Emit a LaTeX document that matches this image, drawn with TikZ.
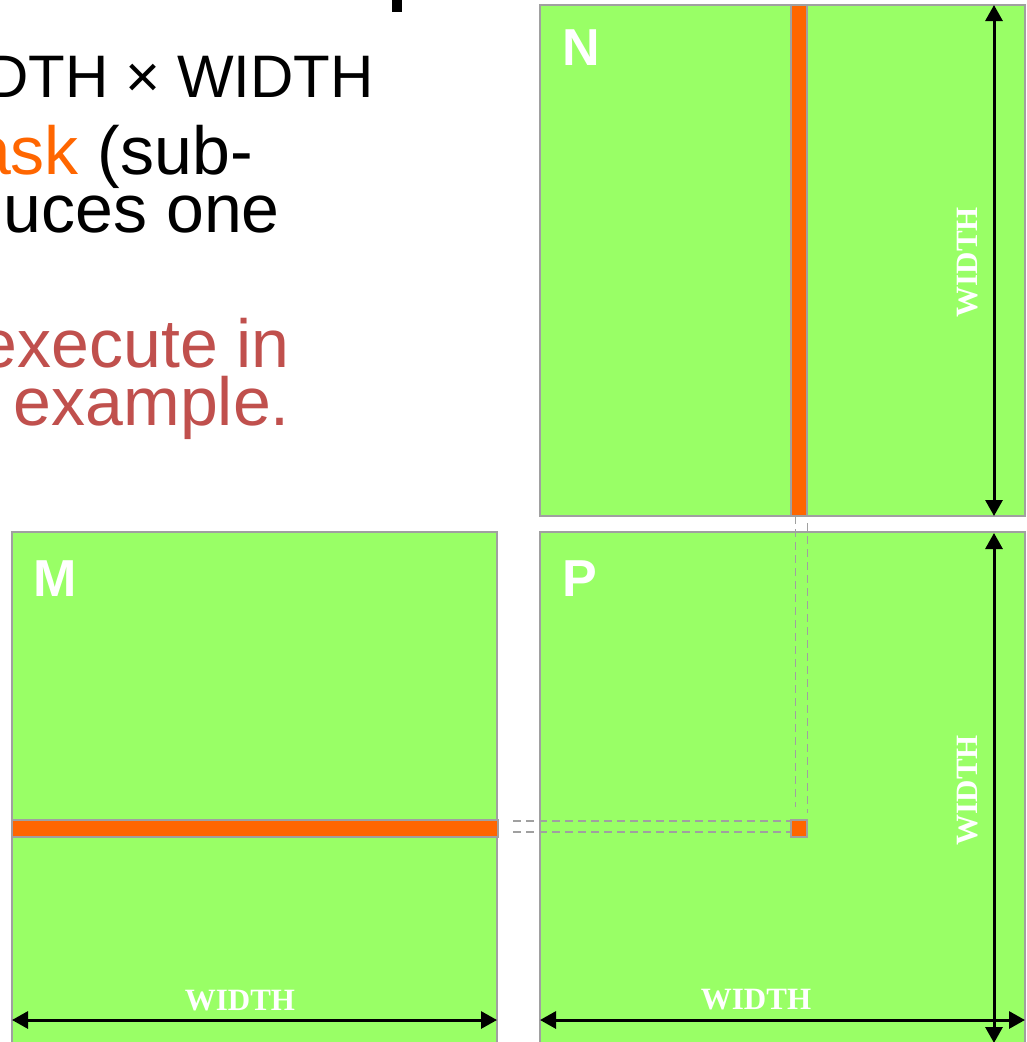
\documentclass[tikz,border=0pt]{standalone}
\usepackage{fontspec}
\setmainfont{Liberation Sans}
\newfontfamily\serifb{Liberation Serif}
\usetikzlibrary{arrows.meta}
\definecolor{matgreen}{HTML}{99FF66}
\definecolor{orng}{HTML}{FF6600}
\definecolor{bordergray}{HTML}{A0A0A0}
\definecolor{redtxt}{HTML}{C0504D}
\begin{document}
\begin{tikzpicture}[x=1pt,y=-1pt,
 mat/.style={draw=bordergray, line width=1.8pt, fill=matgreen, anchor=north west, inner sep=0pt, outer sep=0pt, minimum width=485pt, minimum height=511pt},
 strip/.style={draw=bordergray, line width=1.3pt, fill=orng, anchor=north west, inner sep=0pt, outer sep=0pt},
 dimarrow/.style={line width=3pt, {Triangle[length=16pt,width=17pt]}-{Triangle[length=16pt,width=17pt]}},
 guide/.style={draw=bordergray, line width=1.8pt, dash pattern=on 8pt off 5pt},
 matlabel/.style={text=white, font=\bfseries\fontsize{52}{52}\selectfont, anchor=base west, inner sep=0pt},
 widthlabel/.style={text=white, font=\serifb\bfseries\fontsize{31}{31}\selectfont, inner sep=0pt},
 bigtext/.style={font=\fontsize{68}{68}\selectfont, anchor=base east, inner sep=0pt},
 toptext/.style={font=\fontsize{60}{60}\selectfont, anchor=base east, inner sep=0pt},
]
\useasboundingbox (0,0) rectangle (1026,1042);
\clip (0,0) rectangle (1026,1042);
\fill[white] (0,0) rectangle (1026,1042);

% text fragments at the left
\fill[black] (392,0) rectangle (402,12);
\node[toptext] (t1) at (374,97) {DTH × WIDTH};
\node[bigtext] (t2) at (253,174) {\textcolor{orng}{ask} (sub-};
\node[bigtext] (t3) at (280,232) {uces one};
\node[bigtext, text=redtxt] (t4) at (290,367) {execute in};
\node[bigtext, text=redtxt] (t5) at (290,425) {example.};

% matrices
\node[mat] (N) at (540,5) {};
\node[mat] (M) at (12,532) {};
\node[mat] (P) at (540,532) {};

% strips
\node[strip, minimum width=16pt, minimum height=511pt] (Ncol) at (791,5) {};
\node[strip, minimum width=486pt, minimum height=17pt] (Mrow) at (12,820) {};
\node[strip, minimum width=16pt, minimum height=17pt] (Pel) at (791,820) {};

% dashed guides
\draw[guide] ([xshift=4.5pt]Ncol.south west) -- ([xshift=4.5pt, yshift=13pt]Pel.north west);
\draw[guide] ([xshift=0.5pt, yshift=-7pt]Ncol.south east) -- ([xshift=0.5pt, yshift=7pt]Pel.north east);
\draw[guide] ([xshift=15pt, yshift=-1pt]Mrow.north east) -- ([xshift=-1pt, yshift=-1pt]Pel.north west);
\draw[guide] ([xshift=15pt, yshift=5pt]Mrow.south east) -- ([xshift=-1pt, yshift=5pt]Pel.south west);

% dimension arrows
\draw[dimarrow] ([xshift=-31pt]N.north east) -- ([xshift=-31pt]N.south east);
\draw[dimarrow] ([xshift=-31pt, yshift=-1pt]P.north east) -- ([xshift=-31pt]P.south east);
\draw[dimarrow] ([yshift=23pt]M.south west) -- ([yshift=23pt]M.south east);
\draw[dimarrow] ([yshift=23pt]P.south west) -- ([yshift=23pt]P.south east);

% labels
\node[matlabel] (lN) at (562,65) {N};
\node[matlabel] (lM) at (33,596) {M};
\node[matlabel] (lP) at (562,596) {P};
\node[widthlabel] (wM) at (240,1001) {WIDTH};
\node[widthlabel] (wP) at (756,1000) {WIDTH};
\node[widthlabel, rotate=90] (wN) at (968,262) {WIDTH};
\node[widthlabel, rotate=90] (wP2) at (968,790) {WIDTH};
\end{tikzpicture}
\end{document}
